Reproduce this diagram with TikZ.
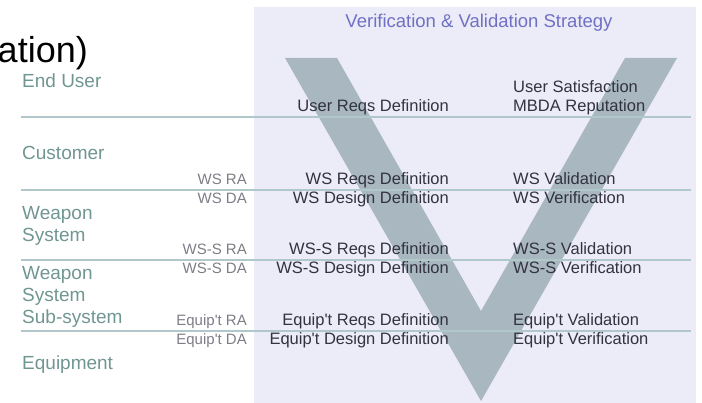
\documentclass[tikz,border=0pt]{standalone}
\usepackage{fontspec}
\setmainfont{Liberation Sans}
\definecolor{vvback}{RGB}{236,236,248}
\definecolor{vvshape}{RGB}{168,183,192}
\definecolor{vvline}{RGB}{176,200,202}
\definecolor{vvlevel}{RGB}{112,150,145}
\definecolor{vvauth}{RGB}{125,125,135}
\definecolor{vvtext}{RGB}{50,50,64}
\definecolor{vvtitle}{RGB}{112,112,196}
\newcommand{\eqp}{Equip\textquotesingle t}
\begin{document}
\begin{tikzpicture}[x=1pt, y=-1pt, line join=round,
    level/.style={anchor=base west, inner sep=0pt, text=vvlevel, font=\fontsize{19}{22}\selectfont},
    auth/.style={anchor=base east, inner sep=0pt, text=vvauth, font=\fontsize{15}{18}\selectfont},
    defn/.style={anchor=base east, inner sep=0pt, text=vvtext, font=\fontsize{16.5}{19}\selectfont},
    proof/.style={anchor=base west, inner sep=0pt, text=vvtext, font=\fontsize{16.5}{19}\selectfont},
    rowline/.style={draw=vvline, line width=2pt}]
    \useasboundingbox (0,0) rectangle (702,403);
    % backdrop and the V
    \fill[vvback](254,7) rectangle (696,403);
    \fill[vvshape](285,58)--(337,58)--(481,311)--(625,58)--(677,58)--(481,401)--cycle;
    \foreach \y in {117,190,260,331}
        \draw[rowline](21,\y)--(691,\y);
    % headings
    \node[anchor=base east, inner sep=0pt, font=\fontsize{36}{40}\selectfont](slidetitle) at (88,63) {ation)};
    \node[anchor=base, inner sep=0pt, text=vvtitle, font=\fontsize{18.5}{22}\selectfont](strategy) at (479,28) {Verification \& Validation Strategy};
    % levels
    \node[level](enduser) at (22,88) {End User};
    \node[level](customer) at (22,160) {Customer};
    \node[level](weapon) at (22,220) {Weapon};
    \node[level](weaponsys) at (22,242) {System};
    \node[level](subweapon) at (22,280) {Weapon};
    \node[level](subsys) at (22,302) {System};
    \node[level](subsub) at (22,324) {Sub-system};
    \node[level](equipment) at (22,370) {Equipment};
    % authorities
    \node[auth](wsra) at (247,185) {WS RA};
    \node[auth](wsda) at (247,204) {WS DA};
    \node[auth](wssra) at (247,255) {WS-S RA};
    \node[auth](wssda) at (247,274) {WS-S DA};
    \node[auth](eqra) at (247,326) {\eqp{} RA};
    \node[auth](eqda) at (247,345) {\eqp{} DA};
    % definitions
    \node[defn](userreqs) at (449,112) {User Reqs Definition};
    \node[defn](wsreqs) at (449,185) {WS Reqs Definition};
    \node[defn](wsdesign) at (449,204) {WS Design Definition};
    \node[defn](wssreqs) at (449,255) {WS-S Reqs Definition};
    \node[defn](wssdesign) at (449,274) {WS-S Design Definition};
    \node[defn](eqreqs) at (449,326) {\eqp{} Reqs Definition};
    \node[defn](eqdesign) at (449,345) {\eqp{} Design Definition};
    % validation and verification
    \node[proof](usersat) at (513,93) {User Satisfaction};
    \node[proof](reputation) at (513,112) {MBDA Reputation};
    \node[proof](wsval) at (513,185) {WS Validation};
    \node[proof](wsver) at (513,204) {WS Verification};
    \node[proof](wssval) at (513,255) {WS-S Validation};
    \node[proof](wssver) at (513,274) {WS-S Verification};
    \node[proof](eqval) at (513,326) {\eqp{} Validation};
    \node[proof](eqver) at (513,345) {\eqp{} Verification};
\end{tikzpicture}
\end{document}
